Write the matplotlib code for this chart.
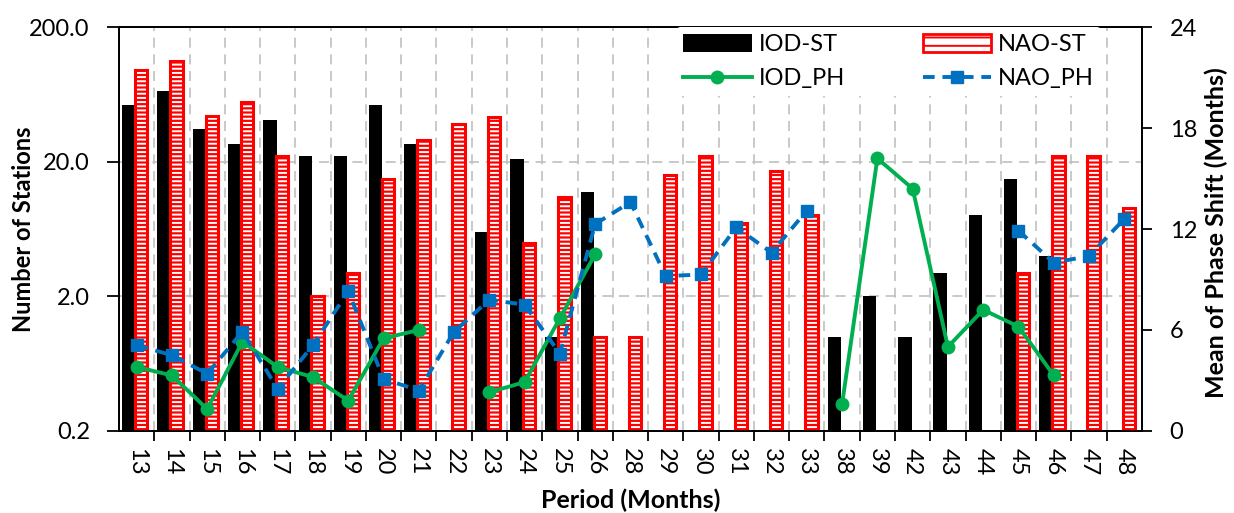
import matplotlib
matplotlib.use("Agg")
import matplotlib.pyplot as plt
import numpy as np
from matplotlib.patches import Patch
from matplotlib.lines import Line2D

plt.rcParams["font.family"] = ["Lato", "DejaVu Sans"]
plt.rcParams["hatch.linewidth"] = 1.4

# periods (months)
periods = ["13", "14", "15", "16", "17", "18", "19", "20", "21", "22", "23", "24", "25", "26",
           "28", "29", "30", "31", "32", "33", "38", "39", "42", "43", "44", "45", "46", "47", "48"]

# number of stations (log axis), None = no bar
iod_st = [53, 67, 35, 27, 41, 22, 22, 53, 27, None, 6, 21, 1, 12,
          None, None, None, None, None, None, 1, 2, 1, 3, 8, 15, 4, None, None]
nao_st = [96, 113, 44, 56, 22, 2, 3, 15, 29, 38, 43, 5, 11, 1,
          1, 16, 22, 7, 17, 8, None, None, None, None, None, 3, 22, 22, 9]

# mean phase shift (months), None = no point
iod_ph = [3.8, 3.3, 1.3, 5.3, 3.8, 3.2, 1.8, 5.5, 6.0, None, 2.3, 2.9, 6.7, 10.5,
          None, None, None, None, None, None, 1.6, 16.2, 14.4, 5.0, 7.2, 6.2, 3.3, None, None]
nao_ph = [5.1, 4.5, 3.4, 5.9, 2.5, 5.1, 8.3, 3.1, 2.4, 5.9, 7.8, 7.5, 4.6, 12.3,
          13.6, 9.2, 9.3, 12.1, 10.6, 13.1, None, None, None, None, None, 11.9, 10.0, 10.4, 12.6]


def to_arr(vals):
    return np.array([np.nan if v is None else v for v in vals], dtype=float)


x = np.arange(len(periods))
iod_st_a, nao_st_a = to_arr(iod_st), to_arr(nao_st)
iod_ph_a, nao_ph_a = to_arr(iod_ph), to_arr(nao_ph)

fig = plt.figure(figsize=(12.34, 5.13), dpi=100)
ax = fig.add_axes([0.0964, 0.16, 0.829, 0.787])
ax2 = ax.twinx()

ax.set_yscale("log")
ax.set_ylim(0.2, 200)
ax.set_xlim(-0.5, len(periods) - 0.5)

# dashed grid: category boundaries and the 2 / 20 levels
grid_kw = dict(color="#c0c0c0", lw=1.2, dashes=(6, 4), zorder=0)
for b in x[:-1] + 0.5:
    ax.axvline(b, **grid_kw)
for yv in [2, 20]:
    ax.axhline(yv, **grid_kw)

m = ~np.isnan(iod_st_a)
ax.bar(x[m] - 0.22, iod_st_a[m], width=0.38, color="black", zorder=2)
m = ~np.isnan(nao_st_a)
ax.bar(x[m] + 0.13, nao_st_a[m], width=0.35, color="red", edgecolor="white",
       hatch="----", lw=0, zorder=3)
ax.bar(x[m] + 0.13, nao_st_a[m], width=0.35, fill=False, edgecolor="red", lw=2.2, zorder=4)

ax.set_yticks([0.2, 2, 20, 200])
ax.set_yticklabels(["0.2", "2.0", "20.0", "200.0"])
ax.yaxis.set_minor_locator(matplotlib.ticker.NullLocator())
ax.set_xticks(x[:-1] + 0.5)
ax.set_xticklabels([])
ax.set_xticks(x, minor=True)
ax.set_xticklabels(periods, minor=True, rotation=270, fontsize=17)
ax.tick_params(axis="x", which="major", length=7, width=1.3, direction="out")
ax.tick_params(axis="x", which="minor", length=0, pad=12)
ax.tick_params(axis="y", length=9, width=1.3, labelsize=17, pad=12)

ax2.set_ylim(0, 24)
ax2.set_yticks([0, 6, 12, 18, 24])
ax2.tick_params(axis="y", length=7, width=1.3, labelsize=17, pad=13)

ax2.plot(x, iod_ph_a, color="#00b050", lw=2.8, marker="o", ms=9, zorder=5)
ax2.plot(x, nao_ph_a, color="#0070c0", lw=2.8, dashes=(3, 2), marker="s", ms=9, zorder=5)

for a in (ax, ax2):
    for s in a.spines.values():
        s.set_linewidth(1.3)

ax.set_ylabel("Number of Stations", fontsize=17, fontweight="bold")
ax.yaxis.set_label_coords(-0.082, 0.5)
ax2.set_ylabel("Mean of Phase Shift (Months)", fontsize=18, fontweight="bold")
ax2.yaxis.set_label_coords(1.061, 0.49)
ax.set_xlabel("Period (Months)", fontsize=18, fontweight="bold")
ax.xaxis.set_label_coords(0.5, -0.143)

# legend
h_iod = Patch(facecolor="black", label="IOD-ST")
h_nao = Patch(facecolor="white", edgecolor="red", hatch="--", lw=2, label="NAO-ST")
h_l1 = Line2D([], [], color="#00b050", lw=2.8, marker="o", ms=9, label="IOD_PH")
h_l2 = Line2D([], [], color="#0070c0", lw=2.8, dashes=(3, 2), marker="s", ms=9, label="NAO_PH")
ax2.legend(handles=[h_iod, h_l1, h_nao, h_l2], ncol=2, loc="upper left",
           bbox_to_anchor=(0.5445, 1.0), borderaxespad=0, fontsize=17, frameon=True,
           framealpha=1, edgecolor="none", handlelength=2.9, handleheight=0.75,
           handletextpad=0.3, columnspacing=3.3, labelspacing=0.55, borderpad=0.3)

fig.savefig("out.png", dpi=100)
